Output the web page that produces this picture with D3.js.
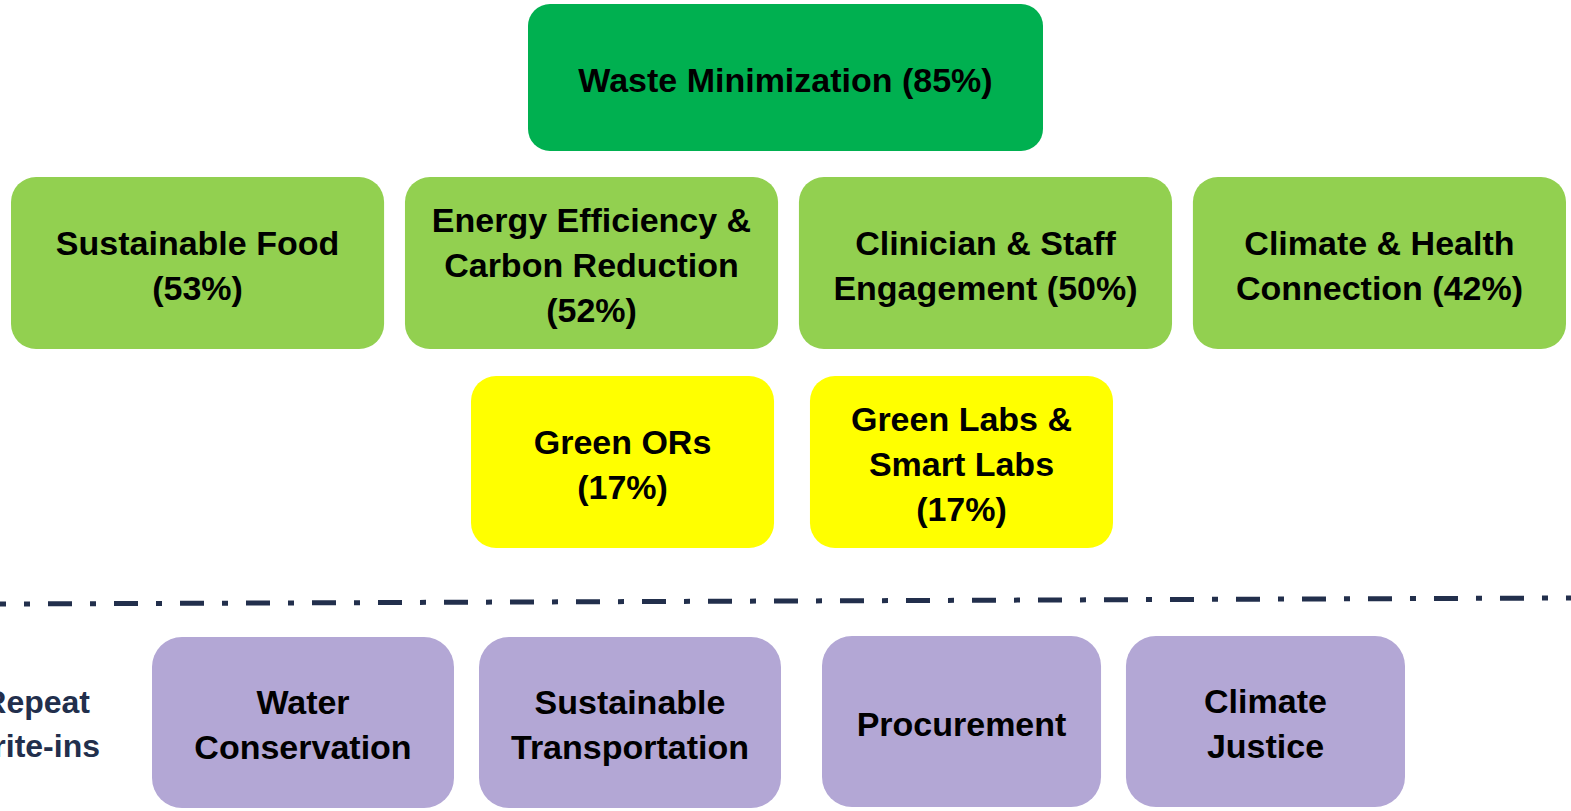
<!DOCTYPE html>
<html>
<head>
<meta charset="utf-8">
<script src="https://cdn.jsdelivr.net/npm/d3@7"></script>
<style>
  html, body { margin: 0; padding: 0; background: #fff; overflow: hidden; }
  .box-text { font-family: "Liberation Sans", Arial, sans-serif; font-weight: 700; font-size: 34px; fill: #000; }
  .side-text { font-family: "Liberation Sans", Arial, sans-serif; font-weight: 700; font-size: 32px; fill: #222f4c; }
</style>
</head>
<body>
<div id="chart"></div>
<script>
// Topics and share of respondents (%)
var topics = [
  "Waste Minimization",
  "Sustainable Food",
  "Energy Efficiency &|Carbon Reduction",
  "Clinician & Staff|Engagement",
  "Climate & Health|Connection",
  "Green ORs",
  "Green Labs &|Smart Labs"
];
var shares = [85, 53, 52, 50, 42, 17, 17];
// true -> percentage goes on its own line
var shareOwnLine = [false, true, true, false, false, true, true];
var tiers = ["top", "high", "high", "high", "high", "mid", "mid"];

// Write-ins that were not repeated
var writeIns = ["Water|Conservation", "Sustainable|Transportation", "Procurement", "Climate|Justice"];
var writeInGroup = ["a", "a", "b", "b"];
var sideLabel = ["Repeat", "write-ins"];

var tierColor = { top: "#00b050", high: "#92d050", mid: "#ffff00", writein: "#b3a7d5" };

var width = 1571, height = 811;

var svg = d3.select("#chart").append("svg")
  .attr("width", width)
  .attr("height", height)
  .attr("viewBox", [0, 0, width, height]);

// row bands (vertical)
var rows = {
  top: { y0: 4, y1: 151, x: d3.scaleBand().domain([0]).range([528, 1043]) },
  high: { y0: 177, y1: 349, x: d3.scaleBand().domain([0, 1, 2, 3]).range([11, 1566]).paddingInner(0.053) },
  mid: { y0: 376, y1: 548, x: d3.scaleBand().domain([0, 1]).range([471, 1113]).paddingInner(0.106) }
};
var writeRows = {
  a: { y0: 637, y1: 808, x: d3.scaleBand().domain([0, 1]).range([152, 781]).paddingInner(0.0765) },
  b: { y0: 636, y1: 807, x: d3.scaleBand().domain([0, 1]).range([822, 1405]).paddingInner(0.082) }
};

var topicData = topics.map(function (t, i) {
  var lines = t.split("|");
  var pct = "(" + shares[i] + "%)";
  if (shareOwnLine[i]) lines.push(pct);
  else lines[lines.length - 1] += " " + pct;
  return { lines: lines, tier: tiers[i] };
});
// index inside the row
var counter = {};
topicData.forEach(function (d) {
  counter[d.tier] = (counter[d.tier] || 0);
  d.idx = counter[d.tier]++;
  var r = rows[d.tier];
  d.x = r.x(d.idx); d.w = r.x.bandwidth(); d.y = r.y0; d.h = r.y1 - r.y0;
  d.fill = tierColor[d.tier];
  d.rx = d.tier === "top" ? 22 : 25;
});

var counterW = {};
var writeData = writeIns.map(function (t, i) {
  var g = writeInGroup[i];
  counterW[g] = (counterW[g] || 0);
  var idx = counterW[g]++;
  var r = writeRows[g];
  return { lines: t.split("|"), x: r.x(idx), w: r.x.bandwidth(), y: r.y0, h: r.y1 - r.y0, fill: tierColor.writein, rx: 30 };
});

var all = topicData.concat(writeData);

var lineH = 45, capH = 24;

var g = svg.selectAll("g.box")
  .data(all)
  .enter()
  .append("g")
  .attr("class", "box");

g.append("rect")
  .attr("x", (d) => d.x)
  .attr("y", (d) => d.y)
  .attr("width", (d) => d.w)
  .attr("height", (d) => d.h)
  .attr("rx", (d) => d.rx)
  .attr("fill", (d) => d.fill);

g.each(function (d) {
  var cx = d.x + d.w / 2,
    cy = d.y + d.h / 2 + 2;
  var first = cy - ((d.lines.length - 1) * lineH) / 2 + capH / 2;
  d3.select(this)
    .selectAll("text")
    .data(d.lines)
    .enter()
    .append("text")
    .attr("class", "box-text")
    .attr("x", cx)
    .attr("y", (l, j) => first + j * lineH)
    .attr("text-anchor", "middle")
    .text((l) => l);
});

// dash-dot separator
svg.append("line")
  .attr("x1", 0)
  .attr("y1", 604)
  .attr("x2", width)
  .attr("y2", 598)
  .attr("stroke", "#222f4c")
  .attr("stroke-width", 5)
  .attr("stroke-dasharray", "24,18,6,18")
  .attr("stroke-dashoffset", 18);

// side label (cut off at the left edge, as in the original slide)
svg.selectAll("text.side-text")
  .data(sideLabel)
  .enter()
  .append("text")
  .attr("class", "side-text")
  .attr("x", (d, i) => (i === 0 ? 90 : 100))
  .attr("y", (d, i) => 713 + i * 44)
  .attr("text-anchor", "end")
  .text((d) => d);
</script>
</body>
</html>
